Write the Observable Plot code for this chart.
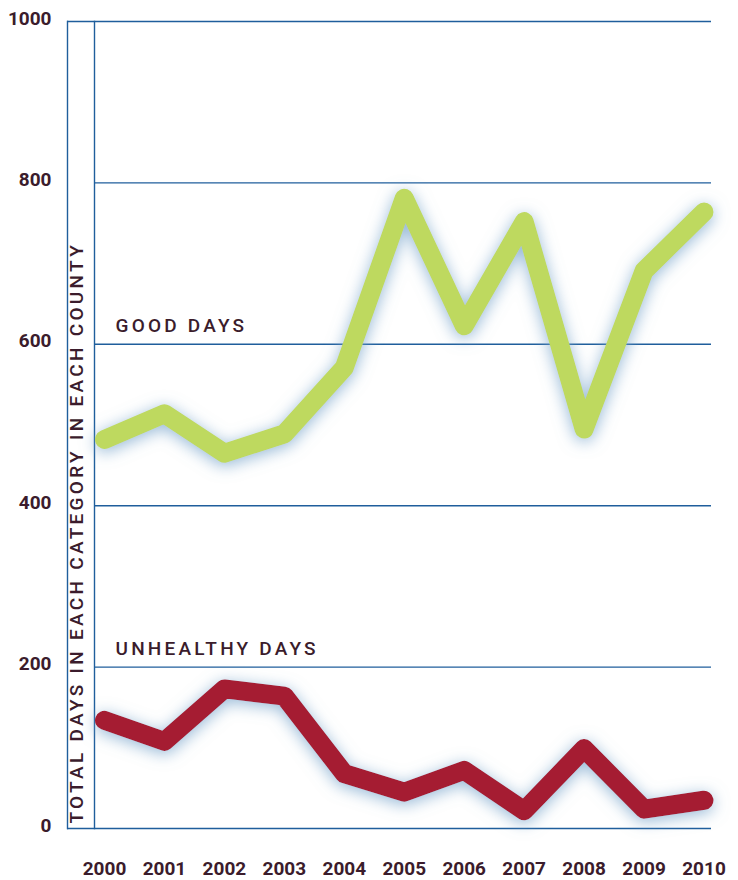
<!DOCTYPE html>
<html><head><meta charset="utf-8">
<script src="https://cdn.jsdelivr.net/npm/d3@7"></script>
<script src="https://cdn.jsdelivr.net/npm/@observablehq/plot@0.6"></script>
<style>body{margin:0;background:#fff} #chart svg{display:block}</style>
</head><body><div id="chart"></div>
<script>
const years = [2000, 2001, 2002, 2003, 2004, 2005, 2006, 2007, 2008, 2009, 2010];
const goodDays = [482, 514, 465, 489, 571, 781, 623, 752, 495, 691, 764];
const unhealthyDays = [134, 108, 173, 164, 68, 45, 72, 22, 99, 24, 35];
const yTicks = [0, 200, 400, 600, 800, 1000];
const gridValues = [200, 400, 600, 800];
const frameValues = [0, 1000];
const seriesLabels = ["GOOD DAYS", "UNHEALTHY DAYS"];
const labelY = [600, 200];
const yTitle = "TOTAL DAYS IN EACH CATEGORY IN EACH COUNTY";

const good = years.map((year, i) => ({year, value: goodDays[i]}));
const unhealthy = years.map((year, i) => ({year, value: unhealthyDays[i]}));
const labels = seriesLabels.map((text, i) => ({text, y: labelY[i]}));

const ink = "#3b1c2c";
const blue = "#1f5e9c";

const chart = Plot.plot({
  width: 738, height: 880,
  marginTop: 21, marginBottom: 52, marginLeft: 67, marginRight: 27,
  style: {fontFamily: "Roboto, sans-serif", background: "#fff"},
  x: {domain: [2000, 2010], range: [104, 703.5]},
  y: {domain: [0, 1000]},
  marks: [
    Plot.ruleY(gridValues, {insetLeft: 27, stroke: blue, strokeWidth: 1.4}),
    Plot.ruleY(frameValues, {stroke: blue, strokeWidth: 1.4}),
    Plot.frame({anchor: "left", stroke: blue, strokeWidth: 1.4}),
    Plot.frame({anchor: "left", insetLeft: 27, stroke: blue, strokeWidth: 1.4}),
    Plot.axisY(yTicks, {tickSize: 0, tickPadding: 16, tickFormat: d => String(d), fontSize: 19, fontWeight: "bold", fill: ink, dy: -3, label: null}),
    Plot.axisX(years, {tickSize: 0, tickPadding: 33, tickFormat: d => String(d), fontSize: 19, fontWeight: "bold", fill: ink, label: null}),
    Plot.text([yTitle], {text: d => d, frameAnchor: "bottom-left", rotate: -90, textAnchor: "start", dx: 15, dy: -5, fontSize: 19, fontWeight: 500, fill: ink}),
    Plot.line(good, {x: "year", y: "value", stroke: "#bed95f", strokeWidth: 19, strokeLinejoin: "round", strokeLinecap: "round"}),
    Plot.line(unhealthy, {x: "year", y: "value", stroke: "#a51b32", strokeWidth: 19, strokeLinejoin: "round", strokeLinecap: "round"}),
    Plot.text(labels, {y: "y", text: "text", frameAnchor: "left", dx: 48, dy: -18, textAnchor: "start", fontSize: 19, fontWeight: 500, fill: ink})
  ]
});

const svg = d3.select(chart);
const defs = svg.insert("defs", ":first-child");
const f = defs.append("filter").attr("id", "glow")
  .attr("filterUnits", "userSpaceOnUse").attr("x", 0).attr("y", 0).attr("width", 738).attr("height", 880);
f.append("feGaussianBlur").attr("in", "SourceAlpha").attr("stdDeviation", 8).attr("result", "blur");
f.append("feOffset").attr("in", "blur").attr("dy", 3).attr("result", "off");
f.append("feFlood").attr("flood-color", "#7ba6cc").attr("flood-opacity", 0.8).attr("result", "col");
f.append("feComposite").attr("in", "col").attr("in2", "off").attr("operator", "in").attr("result", "shadow");
const m = f.append("feMerge");
m.append("feMergeNode").attr("in", "shadow");
m.append("feMergeNode").attr("in", "SourceGraphic");
svg.selectAll('g[aria-label="line"]').attr("filter", "url(#glow)");
svg.selectAll("text").filter(function() { return this.textContent === yTitle; })
  .style("letter-spacing", "3.3px");
svg.selectAll("text").filter(function() { return seriesLabels.includes(this.textContent); })
  .style("letter-spacing", "3.2px");
document.getElementById("chart").append(chart);
</script>
</body></html>
